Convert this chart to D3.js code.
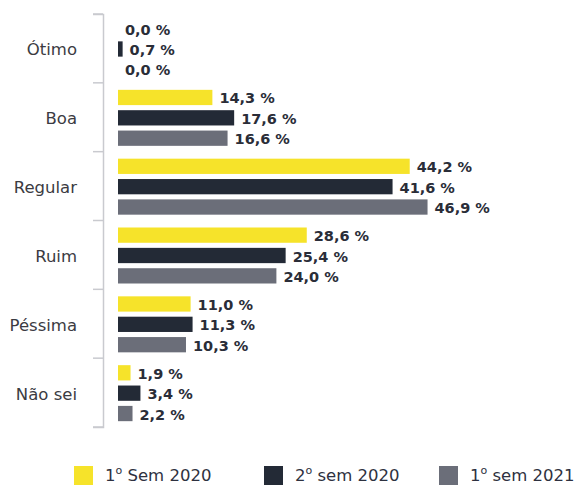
<!DOCTYPE html>
<html>
<head>
<meta charset="utf-8">
<script src="https://cdn.jsdelivr.net/npm/d3@7/dist/d3.min.js"></script>
<style>
  html, body { margin: 0; padding: 0; background: #ffffff; }
  svg { display: block; }
</style>
</head>
<body>
<svg id="chart" width="585" height="485"></svg>
<script>
const categories = ["Ótimo", "Boa", "Regular", "Ruim", "Péssima", "Não sei"];
const seriesNames = ["1º Sem 2020", "2º sem 2020", "1º sem 2021"];
const sem1_2020 = [0.0, 14.3, 44.2, 28.6, 11.0, 1.9];
const sem2_2020 = [0.7, 17.6, 41.6, 25.4, 11.3, 3.4];
const sem1_2021 = [0.0, 16.6, 46.9, 24.0, 10.3, 2.2];
const seriesValues = [sem1_2020, sem2_2020, sem1_2021];
const colors = ["#f6e32a", "#232a36", "#6b6e79"];

const svg = d3.select("#chart");

const y = d3.scaleBand().domain(categories).range([14, 427]).padding(0);
const x = d3.scaleLinear().domain([0, 50]).range([118, 448]);
const yInner = d3.scaleBand().domain(d3.range(seriesNames.length))
  .range([7, 63]).paddingInner(0.25).paddingOuter(0);

// axis
const axis = d3.axisLeft(y).tickSize(10).tickFormat("");
const axisG = svg.append("g").attr("transform", "translate(103,0)").call(axis);
axisG.selectAll(".tick").remove();
axisG.select(".domain").attr("stroke", "#c9cacf").attr("stroke-width", 1.5);
// band boundary ticks
const boundaries = categories.map(c => y(c)).concat([y(categories[categories.length - 1]) + y.bandwidth()]);
svg.append("g").selectAll("line").data(boundaries).join("line")
  .attr("x1", 93).attr("x2", 103)
  .attr("y1", d => d).attr("y2", d => d)
  .attr("stroke", "#c9cacf").attr("stroke-width", 1.5);

// category labels
svg.append("g").selectAll("text").data(categories).join("text")
  .attr("x", 77)
  .attr("y", d => y(d) + y.bandwidth() / 2 + 1.5)
  .attr("text-anchor", "end")
  .attr("dominant-baseline", "central")
  .attr("font-family", "DejaVu Sans, sans-serif")
  .attr("font-size", 16.5)
  .attr("fill", "#3b3b42")
  .text(d => d);

const fmt = v => d3.format(".1f")(v).replace(".", ",") + " %";

const data = [];
categories.forEach((c, i) => {
  seriesValues.forEach((arr, s) => data.push({ c, s, v: arr[i] }));
});

const g = svg.append("g");
g.selectAll("rect").data(data).join("rect")
  .attr("x", x(0))
  .attr("y", d => y(d.c) + yInner(d.s))
  .attr("width", d => x(d.v) - x(0))
  .attr("height", yInner.bandwidth())
  .attr("fill", d => colors[d.s]);

g.selectAll("text").data(data).join("text")
  .attr("x", d => x(d.v) + 7)
  .attr("y", d => y(d.c) + yInner(d.s) + yInner.bandwidth() / 2 + 1)
  .attr("dominant-baseline", "central")
  .attr("font-family", "DejaVu Sans, sans-serif")
  .attr("font-weight", "bold")
  .attr("font-size", 14.5)
  .attr("fill", "#2a2d38")
  .text(d => fmt(d.v));

// legend
const legendX = [74, 264, 439];
const leg = svg.append("g").selectAll("g").data(seriesNames).join("g")
  .attr("transform", (d, i) => `translate(${legendX[i]},466)`);
leg.append("rect").attr("width", 19).attr("height", 19).attr("fill", (d, i) => colors[i]);
const lt = leg.append("text")
  .attr("x", 31).attr("y", 15)
  .attr("font-family", "DejaVu Sans, sans-serif")
  .attr("font-size", 16.5)
  .attr("fill", "#2e3140");
lt.each(function(d) {
  const t = d3.select(this);
  const first = d.charAt(0);
  const rest = d.slice(2);
  t.append("tspan").text(first);
  t.append("tspan").attr("font-size", 11).attr("dy", -7).text("o");
  t.append("tspan").attr("dy", 7).text(" " + rest.trim());
});
</script>
</body>
</html>
